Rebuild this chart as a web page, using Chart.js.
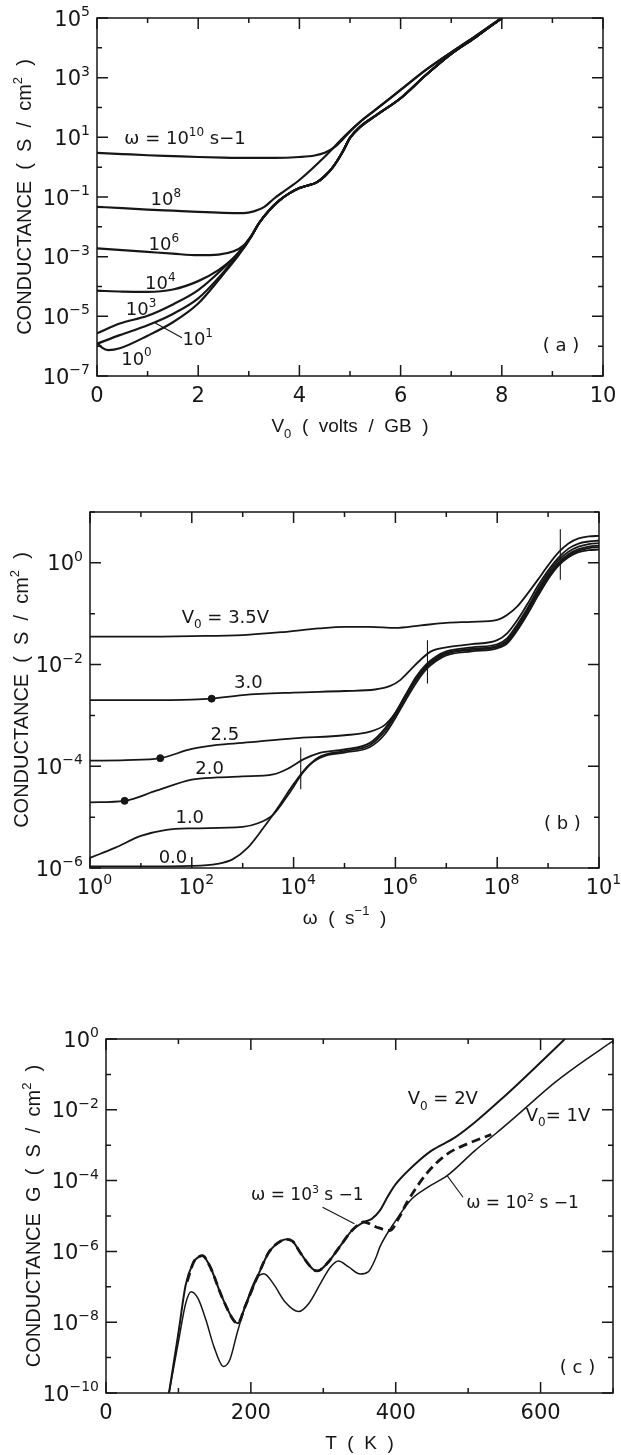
<!DOCTYPE html>
<html>
<head>
<meta charset="utf-8">
<script src="https://cdn.jsdelivr.net/npm/chart.js@4.4.1/dist/chart.umd.min.js"></script>
<style>
  body { margin: 0; background: #fff; width: 621px; height: 1455px; position: relative; overflow: hidden; }
  .panel { position: absolute; left: 0; width: 621px; }
</style>
</head>
<body>
<div class="panel" style="top:0;height:445px"><canvas id="chartA"></canvas></div>
<div class="panel" style="top:450px;height:500px"><canvas id="chartB"></canvas></div>
<div class="panel" style="top:975px;height:480px"><canvas id="chartC"></canvas></div>
<script>

// ---- panel (a): G vs V0, one curve per frequency ----
var aLowV = [3.2, 3.4, 3.6, 3.8, 4.0, 4.2, 4.35, 4.5, 4.67, 4.85, 5.0, 5.2, 5.5, 6, 6.5, 7, 7.5, 8];
var aLowG = [-1.88, -1.45, -1.12, -0.88, -0.7, -0.6, -0.5, -0.3, 0.02, 0.5, 0.98, 1.35, 1.72, 2.31, 3.09, 3.8, 4.38, 5.0];
var aV_w1e10 = [0, 0.5, 1, 1.5, 2, 2.5, 3, 3.5, 4, 4.3, 4.5, 4.7, 4.85, 5, 5.2, 5.5, 6, 6.5, 7, 7.5, 8];
var aG_w1e10 = [0.48, 0.44, 0.40, 0.37, 0.34, 0.32, 0.31, 0.31, 0.34, 0.39, 0.48, 0.68, 0.92, 1.2, 1.52, 1.92, 2.59, 3.26, 3.85, 4.42, 5.0];
var aV_w1e8 = [0, 0.5, 1, 1.5, 2, 2.5, 2.9, 3.1, 3.3, 3.5, 3.7, 4.0, 4.5, 4.9, 5.2, 5.5, 6, 6.5, 7, 7.5, 8];
var aG_w1e8 = [-1.33, -1.37, -1.42, -1.46, -1.50, -1.53, -1.54, -1.48, -1.34, -1.05, -0.8, -0.43, 0.35, 1.05, 1.52, 1.92, 2.59, 3.26, 3.85, 4.42, 5.0];
var aV_w1e6 = [0, 0.5, 1, 1.5, 2, 2.4, 2.7, 2.9, 3.05].concat(aLowV);
var aG_w1e6 = [-2.72, -2.78, -2.84, -2.9, -2.95, -2.93, -2.82, -2.62, -2.3].concat(aLowG);
var aV_w1e4 = [0, 0.5, 1, 1.5, 2, 2.4, 2.7, 2.9, 3.05].concat(aLowV);
var aG_w1e4 = [-4.14, -4.17, -4.18, -4.1, -3.82, -3.45, -3.05, -2.7, -2.32].concat(aLowG);
var aV_w1e3 = [0, 0.45, 1, 1.5, 2, 2.5, 2.8, 3.05].concat(aLowV);
var aG_w1e3 = [-5.57, -5.24, -4.98, -4.6, -4.12, -3.38, -2.85, -2.3].concat(aLowG);
var aV_w1e1 = [0, 0.45, 1, 1.5, 2, 2.5, 2.8, 3.05].concat(aLowV);
var aG_w1e1 = [-5.92, -5.63, -5.3, -4.92, -4.4, -3.52, -2.9, -2.32].concat(aLowG);
var aV_w1e0 = [0, 0.1, 0.22, 0.45, 1, 1.5, 2, 2.5, 2.8, 3.05].concat(aLowV);
var aG_w1e0 = [-5.88, -6.05, -6.13, -6.07, -5.65, -5.2, -4.57, -3.58, -2.95, -2.32].concat(aLowG);
var aXTicks = [0, 1, 2, 3, 4, 5, 6, 7, 8, 9, 10];
var aXLabels = [0, 2, 4, 6, 8, 10];
var aYTicks = [-7, -6, -5, -4, -3, -2, -1, 0, 1, 2, 3, 4, 5];
var aYLabels = [-7, -5, -3, -1, 1, 3, 5];

// ---- panel (b): G vs log10(omega), one curve per V0 ----
var bW_35 = [0, 1, 2, 3, 3.8, 4.5, 5, 5.5, 6, 6.5, 7, 7.5, 8, 8.2, 8.4, 8.6, 8.8, 9.0, 9.2, 9.4, 9.6, 9.8, 10];
var bG_35 = [-1.45, -1.45, -1.44, -1.42, -1.36, -1.29, -1.26, -1.26, -1.28, -1.23, -1.18, -1.16, -1.12, -1.02, -0.85, -0.6, -0.33, -0.05, 0.2, 0.38, 0.48, 0.52, 0.53];
var bW_30 = [0, 1, 2, 2.39, 3, 4, 5, 5.6, 5.9, 6.1, 6.3, 6.5, 6.7, 7, 7.5, 8, 8.2, 8.4, 8.6, 8.8, 9.0, 9.2, 9.4, 9.6, 9.8, 10];
var bG_30 = [-2.70, -2.70, -2.69, -2.67, -2.6, -2.55, -2.52, -2.49, -2.42, -2.3, -2.1, -1.9, -1.74, -1.66, -1.6, -1.52, -1.38, -1.12, -0.8, -0.45, -0.15, 0.1, 0.28, 0.38, 0.42, 0.44];
var bW_25 = [0, 0.7, 1.38, 2, 2.5, 3, 4, 5, 5.5, 5.8, 6.0, 6.2, 6.4, 6.6, 6.8, 7, 7.5, 8, 8.2, 8.4, 8.6, 8.8, 9.0, 9.2, 9.4, 9.6, 9.8, 10];
var bG_25 = [-3.89, -3.88, -3.84, -3.66, -3.58, -3.54, -3.45, -3.39, -3.32, -3.18, -2.95, -2.6, -2.25, -2.0, -1.84, -1.74, -1.66, -1.6, -1.48, -1.2, -0.88, -0.52, -0.2, 0.05, 0.22, 0.32, 0.37, 0.39];
var bW_20 = [0, 0.68, 1.3, 2, 2.5, 3, 3.6, 3.9, 4.2, 4.5, 5, 5.5, 5.8, 6.0, 6.2, 6.4, 6.6, 6.8, 7, 7.5, 8, 8.2, 8.4, 8.6, 8.8, 9.0, 9.2, 9.4, 9.6, 9.8, 10];
var bG_20 = [-4.71, -4.68, -4.48, -4.26, -4.22, -4.2, -4.16, -4.04, -3.86, -3.74, -3.67, -3.54, -3.25, -2.95, -2.6, -2.28, -2.03, -1.87, -1.77, -1.69, -1.63, -1.52, -1.25, -0.92, -0.57, -0.25, 0.0, 0.17, 0.27, 0.32, 0.34];
var bW_10 = [0, 0.5, 1.0, 1.5, 2, 3, 3.3, 3.6, 3.9, 4.2, 4.5, 5, 5.5, 5.8, 6.0, 6.2, 6.4, 6.6, 6.8, 7, 7.5, 8, 8.2, 8.4, 8.6, 8.8, 9.0, 9.2, 9.4, 9.6, 9.8, 10];
var bG_10 = [-5.8, -5.6, -5.37, -5.25, -5.22, -5.19, -5.12, -4.95, -4.55, -4.1, -3.82, -3.7, -3.58, -3.3, -3.0, -2.65, -2.32, -2.06, -1.9, -1.79, -1.71, -1.65, -1.55, -1.28, -0.95, -0.6, -0.28, -0.03, 0.14, 0.24, 0.29, 0.31];
var bW_00 = [0, 1, 2, 2.5, 2.8, 3.1, 3.4, 3.7, 4.0, 4.3, 4.6, 5, 5.5, 5.8, 6.0, 6.2, 6.4, 6.6, 6.8, 7, 7.5, 8, 8.2, 8.4, 8.6, 8.8, 9.0, 9.2, 9.4, 9.6, 9.8, 10];
var bG_00 = [-5.97, -5.97, -5.96, -5.92, -5.83, -5.6, -5.22, -4.8, -4.35, -3.98, -3.8, -3.73, -3.62, -3.36, -3.05, -2.7, -2.37, -2.1, -1.93, -1.82, -1.74, -1.68, -1.58, -1.32, -1.0, -0.65, -0.32, -0.06, 0.11, 0.21, 0.25, 0.26];
var bDotW = [2.39, 1.38, 0.68];
var bDotG = [-2.67, -3.84, -4.68];
// short vertical markers: [log w, log G top, log G bottom]
var bMarks = [[4.14, -3.63, -4.45], [6.63, -1.52, -2.37], [9.24, 0.66, -0.33]];
var bXTicks = [0, 1, 2, 3, 4, 5, 6, 7, 8, 9, 10];
var bXLabels = [0, 2, 4, 6, 8, 10];
var bYTicks = [-6, -5, -4, -3, -2, -1, 0, 1];
var bYLabels = [-6, -4, -2, 0];

// ---- panel (c): G vs T ----
var cT_1V = [84, 87, 100, 110, 117.5, 127, 138, 149, 162, 171, 181, 192, 206, 218, 231, 247, 266, 280, 296, 310, 321, 335, 351, 362, 373, 378, 400, 422, 444, 471, 509, 537, 564, 619, 646, 701];
var cG_1V = [-10.35, -10, -8.55, -7.47, -7.14, -7.33, -7.94, -8.69, -9.25, -9.06, -8.31, -7.56, -6.81, -6.63, -6.91, -7.42, -7.70, -7.47, -6.91, -6.44, -6.27, -6.44, -6.64, -6.58, -6.16, -5.88, -5.13, -4.52, -4.19, -3.86, -3.16, -2.69, -2.22, -1.24, -0.82, -0.04];
var cT_2V = [84, 87, 100, 110, 121, 127, 133, 143, 160, 176, 182, 192, 209, 225, 242, 250, 258, 269, 285, 291, 296, 307, 324, 340, 356, 367, 378, 389, 400, 427, 449, 482, 509, 548, 580, 630, 636];
var cG_2V = [-10.35, -10, -8.3, -6.95, -6.3, -6.17, -6.12, -6.4, -7.28, -7.94, -8.03, -7.56, -6.72, -6.02, -5.7, -5.66, -5.72, -6.06, -6.49, -6.55, -6.52, -6.3, -5.83, -5.4, -5.17, -5.08, -4.85, -4.45, -4.1, -3.53, -3.16, -2.78, -2.36, -1.66, -1.05, -0.07, 0.05];
var cT_w1e3 = [112, 121, 127, 133, 143, 160, 176, 182, 192, 209, 225, 242, 250, 258, 269, 285, 291, 296, 307, 324, 340, 356, 373, 392, 405, 416, 444, 471, 498, 532];
var cG_w1e3 = [-6.85, -6.3, -6.17, -6.12, -6.4, -7.28, -7.94, -8.03, -7.56, -6.72, -6.02, -5.7, -5.66, -5.72, -6.06, -6.49, -6.55, -6.52, -6.3, -5.83, -5.4, -5.17, -5.31, -5.41, -5.03, -4.6, -3.77, -3.25, -2.97, -2.7];
var cXTicks = [0, 100, 200, 300, 400, 500, 600, 700];
var cXLabels = [0, 200, 400, 600];
var cYTicks = [-10, -9, -8, -7, -6, -5, -4, -3, -2, -1, 0];
var cYLabels = [-10, -8, -6, -4, -2, 0];

var INK = '#161616';
var NUM_FONT = '"DejaVu Sans", sans-serif';
var TXT_FONT = '"Liberation Sans", Arial, sans-serif';

function pts(xs, ys, logX) {
  return xs.map(function(x, i) {
    return { x: logX ? Math.pow(10, x) : x, y: Math.pow(10, ys[i]) };
  });
}
function curve(data, width, dash) {
  return { data: data, borderColor: INK, borderWidth: width, borderDash: dash || [],
           pointRadius: 0, fill: false, cubicInterpolationMode: 'monotone' };
}
function segment(data) {
  return { data: data, borderColor: INK, borderWidth: 1.1, pointRadius: 0, fill: false, tension: 0 };
}

function partSize(p, size) { return (p.sup || p.sub) ? Math.round(size * 0.66) : size; }
function fontOf(p, size, fam, weight) { return (weight || '') + ' ' + partSize(p, size) + 'px ' + fam; }
function richWidth(ctx, parts, size, fam, weight) {
  var w = 0;
  parts.forEach(function(p) { ctx.font = fontOf(p, size, fam, weight); w += ctx.measureText(p.t).width; });
  return w;
}
// y is the vertical centre of the main-size text
function drawRich(ctx, parts, x, y, align, size, fam, weight) {
  var w = richWidth(ctx, parts, size, fam, weight);
  var cx = x;
  if (align === 'center') cx = x - w / 2;
  else if (align === 'right') cx = x - w;
  else if (align === 'first') { ctx.font = fontOf(parts[0], size, fam, weight); cx = x - ctx.measureText(parts[0].t).width / 2; }
  var base = y + size * 0.36;
  ctx.textAlign = 'left';
  ctx.textBaseline = 'alphabetic';
  parts.forEach(function(p) {
    ctx.font = fontOf(p, size, fam, weight);
    var dy = p.sup ? -size * 0.45 : (p.sub ? size * 0.3 : 0);
    ctx.fillText(p.t, cx, base + dy);
    cx += ctx.measureText(p.t).width;
  });
}
function powParts(e) { return [{ t: '10' }, { t: String(e).replace('-', '\u2212'), sup: true }]; }

var framePlugin = {
  id: 'frame',
  afterDatasetsDraw: function(chart, args, o) {
    var ctx = chart.ctx, a = chart.chartArea, xs = chart.scales.x, ys = chart.scales.y;
    ctx.save();
    ctx.strokeStyle = INK;
    ctx.fillStyle = INK;
    ctx.lineWidth = 1.5;
    ctx.strokeRect(a.left, a.top, a.right - a.left, a.bottom - a.top);
    ctx.beginPath();
    o.xTicks.forEach(function(v) {
      var px = xs.getPixelForValue(o.xLog ? Math.pow(10, v) : v);
      var len = o.xLabels.indexOf(v) >= 0 ? 11 : 5;
      ctx.moveTo(px, a.bottom); ctx.lineTo(px, a.bottom - len);
      ctx.moveTo(px, a.top); ctx.lineTo(px, a.top + len);
    });
    o.yTicks.forEach(function(v) {
      var py = ys.getPixelForValue(Math.pow(10, v));
      var len = o.yLabels.indexOf(v) >= 0 ? 11 : 5;
      ctx.moveTo(a.left, py); ctx.lineTo(a.left + len, py);
      ctx.moveTo(a.right, py); ctx.lineTo(a.right - len, py);
    });
    ctx.stroke();

    // tick labels
    o.xLabels.forEach(function(v) {
      var px = xs.getPixelForValue(o.xLog ? Math.pow(10, v) : v);
      if (o.xLog) drawRich(ctx, powParts(v), px, a.bottom + 18, 'first', 21, NUM_FONT);
      else drawRich(ctx, [{ t: String(v) }], px, a.bottom + 18, 'center', 21, NUM_FONT);
    });
    o.yLabels.forEach(function(v) {
      var py = ys.getPixelForValue(Math.pow(10, v));
      drawRich(ctx, powParts(v), a.left - 7, py, 'right', 21, NUM_FONT);
    });

    // axis titles
    drawRich(ctx, o.xTitle, (a.left + a.right) / 2, a.bottom + 49, 'center', 19, TXT_FONT);
    ctx.save();
    ctx.translate(o.yTitleX, (a.top + a.bottom) / 2);
    ctx.rotate(-Math.PI / 2);
    drawRich(ctx, o.yTitle, 0, 0, 'center', 20, TXT_FONT);
    ctx.restore();

    // curve labels, placed in data coordinates
    o.notes.forEach(function(n) {
      var px = xs.getPixelForValue(o.xLog ? Math.pow(10, n.x) : n.x);
      var py = ys.getPixelForValue(Math.pow(10, n.y));
      drawRich(ctx, n.parts, px, py, 'center', n.size || 18, NUM_FONT);
    });
    ctx.restore();
  }
};

function makePanel(id, cfg) {
  return new Chart(document.getElementById(id), {
    type: 'line',
    data: { datasets: cfg.datasets },
    options: {
      responsive: true,
      maintainAspectRatio: false,
      animation: false,
      devicePixelRatio: 1,
      layout: { padding: cfg.pad },
      scales: {
        x: { type: cfg.xLog ? 'logarithmic' : 'linear', min: cfg.xMin, max: cfg.xMax, display: false },
        y: { type: 'logarithmic', min: cfg.yMin, max: cfg.yMax, display: false }
      },
      plugins: { legend: { display: false }, tooltip: { enabled: false }, frame: cfg.frame }
    },
    plugins: [framePlugin]
  });
}

var yTitleParts = [{ t: 'CONDUCTANCE  (  S  /  cm' }, { t: '2', sup: true }, { t: '  )' }];

makePanel('chartA', {
  pad: { left: 97, right: 18, top: 18, bottom: 69 },
  xMin: 0, xMax: 10, yMin: 1e-7, yMax: 1e5,
  datasets: [
    curve(pts(aV_w1e10, aG_w1e10), 2.2), curve(pts(aV_w1e8, aG_w1e8), 2.2),
    curve(pts(aV_w1e6, aG_w1e6), 2.2), curve(pts(aV_w1e4, aG_w1e4), 2.2),
    curve(pts(aV_w1e3, aG_w1e3), 2.2), curve(pts(aV_w1e1, aG_w1e1), 2.2),
    curve(pts(aV_w1e0, aG_w1e0), 2.2),
    segment(pts([1.15, 1.68], [-5.22, -5.72]))
  ],
  frame: {
    xTicks: aXTicks, xLabels: aXLabels, yTicks: aYTicks, yLabels: aYLabels,
    xTitle: [{ t: 'V' }, { t: '0', sub: true }, { t: '  (  volts  /  GB  )' }],
    yTitle: yTitleParts, yTitleX: 24,
    notes: [
      { x: 1.74, y: 0.98, parts: [{ t: '\u03c9 = 10' }, { t: '10', sup: true }, { t: ' s\u22121' }] },
      { x: 1.36, y: -1.05, parts: powParts(8) },
      { x: 1.32, y: -2.55, parts: powParts(6) },
      { x: 1.25, y: -3.87, parts: powParts(4) },
      { x: 0.87, y: -4.75, parts: powParts(3) },
      { x: 1.99, y: -5.76, parts: powParts(1) },
      { x: 0.78, y: -6.40, parts: powParts(0) },
      { x: 9.17, y: -5.96, parts: [{ t: '( a )' }] }
    ]
  }
});

var bDots = {
  type: 'scatter', data: pts(bDotW, bDotG, true), pointRadius: 3.5,
  pointBackgroundColor: INK, pointBorderColor: INK, showLine: false
};
makePanel('chartB', {
  pad: { left: 90, right: 22, top: 62, bottom: 82 },
  xLog: true, xMin: 1, xMax: 1e10, yMin: 1e-6, yMax: 10,
  datasets: [
    curve(pts(bW_35, bG_35, true), 1.8), curve(pts(bW_30, bG_30, true), 1.8),
    curve(pts(bW_25, bG_25, true), 1.8), curve(pts(bW_20, bG_20, true), 1.8),
    curve(pts(bW_10, bG_10, true), 1.8), curve(pts(bW_00, bG_00, true), 1.8),
    segment(pts([bMarks[0][0], bMarks[0][0]], [bMarks[0][1], bMarks[0][2]], true)),
    segment(pts([bMarks[1][0], bMarks[1][0]], [bMarks[1][1], bMarks[1][2]], true)),
    segment(pts([bMarks[2][0], bMarks[2][0]], [bMarks[2][1], bMarks[2][2]], true)),
    bDots
  ],
  frame: {
    xLog: true, xTicks: bXTicks, xLabels: bXLabels, yTicks: bYTicks, yLabels: bYLabels,
    xTitle: [{ t: '\u03c9  (  s' }, { t: '\u22121', sup: true }, { t: '  )' }],
    yTitle: yTitleParts, yTitleX: 21,
    notes: [
      { x: 2.66, y: -1.05, parts: [{ t: 'V' }, { t: '0', sub: true }, { t: ' = 3.5V' }] },
      { x: 3.11, y: -2.34, parts: [{ t: '3.0' }] },
      { x: 2.65, y: -3.36, parts: [{ t: '2.5' }] },
      { x: 2.35, y: -4.02, parts: [{ t: '2.0' }] },
      { x: 1.96, y: -4.98, parts: [{ t: '1.0' }] },
      { x: 1.63, y: -5.77, parts: [{ t: '0.0' }] },
      { x: 9.28, y: -5.11, parts: [{ t: '( b )' }] }
    ]
  }
});

makePanel('chartC', {
  pad: { left: 106, right: 8, top: 64, bottom: 62 },
  xMin: 0, xMax: 700, yMin: 1e-10, yMax: 1,
  datasets: [
    curve(pts(cT_1V, cG_1V), 1.5),
    curve(pts(cT_2V, cG_2V), 2),
    curve(pts(cT_w1e3, cG_w1e3), 2.8, [9, 5]),
    segment(pts([299, 343], [-4.75, -5.22])),
    segment(pts([493, 471], [-4.47, -3.86]))
  ],
  frame: {
    xTicks: cXTicks, xLabels: cXLabels, yTicks: cYTicks, yLabels: cYLabels,
    xTitle: [{ t: 'T  (  K  )' }],
    yTitle: [{ t: 'CONDUCTANCE  G  (  S  /  cm' }, { t: '2', sup: true }, { t: '  )' }], yTitleX: 33,
    notes: [
      { x: 465, y: -1.66, parts: [{ t: 'V' }, { t: '0', sub: true }, { t: ' = 2V' }] },
      { x: 624, y: -2.13, parts: [{ t: 'V' }, { t: '0', sub: true }, { t: '= 1V' }] },
      { x: 278, y: -4.38, parts: [{ t: '\u03c9 = 10' }, { t: '3', sup: true }, { t: ' s \u22121' }], size: 17 },
      { x: 575, y: -4.61, parts: [{ t: '\u03c9 = 10' }, { t: '2', sup: true }, { t: ' s \u22121' }], size: 17 },
      { x: 651, y: -9.25, parts: [{ t: '( c )' }] }
    ]
  }
});
</script>
</body>
</html>
